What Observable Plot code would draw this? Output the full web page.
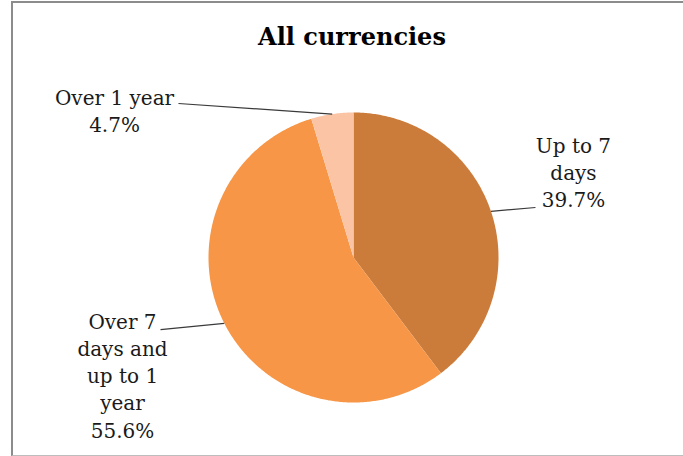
<!DOCTYPE html>
<html>
<head>
<meta charset="utf-8">
<script src="https://cdn.jsdelivr.net/npm/d3@7"></script>
<script src="https://cdn.jsdelivr.net/npm/@observablehq/plot@0.6"></script>
<style>
  html, body { margin: 0; padding: 0; background: #fff; }
  #wrap { position: relative; width: 683px; height: 456px; overflow: hidden; background: #fff; }
  #frame { position: absolute; left: 11px; top: 1px; width: 720px; height: 452px;
           border-top: 2px solid #8c8c8c; border-left: 2px solid #8c8c8c; border-bottom: 1px solid #bdbdbd; }
  #title { position: absolute; left: 0; width: 704px; top: 25px; line-height: 24px; text-align: center;
           font-family: "DejaVu Serif", serif; font-weight: bold; font-size: 24px; color: #000; }
  #chart { position: absolute; left: 0; top: 0; }
</style>
</head>
<body>
<div id="wrap">
  <div id="frame"></div>
  <div id="chart"></div>
  <div id="title">All currencies</div>
</div>
<script>
// Data
const categories = ["Up to 7 days", "Over 7 days and up to 1 year", "Over 1 year"];
const shares = [39.7, 55.6, 4.7];
const labelTexts = ["Up to 7\ndays\n39.7%", "Over 7\ndays and\nup to 1\nyear\n55.6%", "Over 1 year\n4.7%"];
const colors = ["#CB7B3A", "#F79646", "#FBC4A4"];

// Label layout (in pie-radius units, y up)
const labelCenter = [[1.517, 0.593], [-1.593, -0.807], [-1.648, 1.021]];
const leaderEnd = [[1.255, 0.345], [-1.331, -0.497], [-1.207, 1.062]];

const pie = d3.pie().sort(null).value(d => d.value)(
  categories.map((name, i) => ({name, value: shares[i]}))
);

// slice outlines
const pts = [];
pie.forEach(a => {
  const name = a.data.name;
  pts.push({name, x: 0, y: 0});
  const n = Math.max(2, Math.ceil((a.endAngle - a.startAngle) / 0.01));
  for (let k = 0; k <= n; k++) {
    const t = a.startAngle + (a.endAngle - a.startAngle) * k / n;
    pts.push({name, x: Math.sin(t), y: Math.cos(t)});
  }
  pts.push({name, x: 0, y: 0});
});

const labels = pie.map((a, i) => {
  const m = (a.startAngle + a.endAngle) / 2;
  return {
    text: labelTexts[i],
    x1: Math.sin(m), y1: Math.cos(m),
    x2: leaderEnd[i][0], y2: leaderEnd[i][1],
    lx: labelCenter[i][0], ly: labelCenter[i][1]
  };
});

const chart = Plot.plot({
  width: 683,
  height: 456,
  marginLeft: 208,
  marginRight: 185,
  marginTop: 112,
  marginBottom: 54,
  x: {domain: [-1, 1], axis: null},
  y: {domain: [-1, 1], axis: null},
  color: {domain: categories, range: colors},
  style: {background: "transparent", fontFamily: "DejaVu Serif, serif", overflow: "visible"},
  marks: [
    Plot.line(pts, {x: "x", y: "y", z: "name", fill: "name", stroke: "none", clip: false}),
    Plot.link(labels, {x1: "x1", y1: "y1", x2: "x2", y2: "y2", stroke: "#3a3a3a", strokeWidth: 1.2}),
    Plot.text(labels, {x: "lx", y: "ly", text: "text", fontSize: 20, lineHeight: 1.36,
      textAnchor: "middle", fill: "#1a1a1a"})
  ]
});
document.getElementById("chart").appendChild(chart);
</script>
</body>
</html>
